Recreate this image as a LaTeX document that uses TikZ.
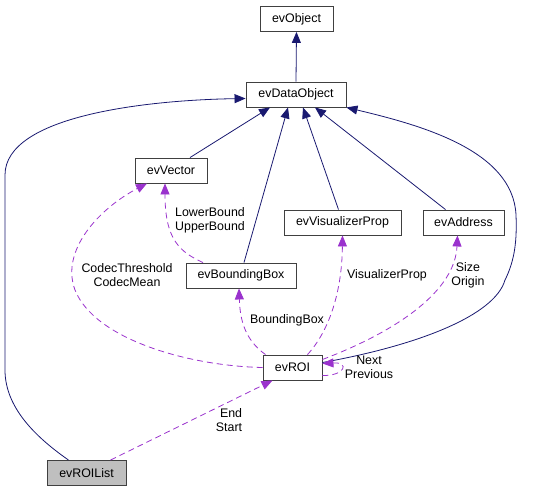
\documentclass[tikz,border=0pt]{standalone}
\usepackage{fontspec}
\setmainfont{Liberation Sans}
\usetikzlibrary{arrows.meta}
\definecolor{inhcol}{HTML}{191970}
\definecolor{usecol}{HTML}{9A32CD}
\tikzset{cls/.style={draw=black!75, fill=white, line width=0.9pt, inner sep=0pt,
    minimum height=25pt, font=\fontsize{12.4}{14}\selectfont},
  inh/.style={draw=inhcol, line width=0.8pt, arrows={-{Triangle[length=11pt,width=9pt,fill=inhcol]}}},
  use/.style={draw=usecol, line width=0.8pt, dash pattern=on 6pt off 4pt, arrows={-{Triangle[length=11pt,width=9pt,fill=usecol]}}},
  lbl/.style={font=\fontsize{12.4}{14}\selectfont, align=center, inner sep=0pt}}

\begin{document}
\begin{tikzpicture}[x=1pt,y=-1pt]
      \useasboundingbox (0,0) rectangle (538,492);

      \node [cls, minimum width=73pt] (evObject) at (296.5,19) {evObject};
      \node [cls, minimum width=100pt] (evDataObject) at (296,94.5) {evDataObject};
      \node [cls, minimum width=72pt] (evVector) at (171,170.5) {evVector};
      \node [cls, minimum width=117pt] (evVisualizerProp) at (342.5,222.5) {evVisualizerProp};
      \node [cls, minimum width=81pt] (evAddress) at (463.5,222.5) {evAddress};
      \node [cls, minimum width=110pt] (evBoundingBox) at (241,275.5) {evBoundingBox};
      \node [cls, minimum width=59pt] (evROI) at (292.5,367.5) {evROI};
      \node [cls, minimum width=79pt, fill=black!25] (evROIList) at (86.5,473) {evROIList};

      % inheritance
      \draw [inh] (evDataObject.north) -- (evObject.south);
      \draw [inh] ([xshift=19pt]evVector.north) -- ([xshift=-26pt]evDataObject.south);
      \draw [inh] ([xshift=3pt]evBoundingBox.north) -- ([xshift=-8pt]evDataObject.south);
      \draw [inh] ([xshift=-4pt]evVisualizerProp.north) -- ([xshift=7pt]evDataObject.south);
      \draw [inh] ([xshift=-18pt]evAddress.north) -- ([xshift=19pt]evDataObject.south);
      \draw [inh] ([yshift=5pt]evROI.east) .. controls (420,345) and (495,315) .. (505,280)
        .. controls (515,260) and (517,240) .. (516,215)
        .. controls (513,150) and (420,125) .. (evDataObject.south east);
      \draw [inh] ([xshift=-18pt]evROIList.north) .. controls (40,440) and (5,410) .. (5,370)
        -- (5,175) .. controls (5,115) and (150,100) .. ([yshift=-4pt]evDataObject.west);

      % usage
      \draw [use] (evROI.west) .. controls (190,366) and (95,340) .. (75,290)
        .. controls (60,250) and (100,208) .. ([xshift=-24pt]evVector.south);
      \draw [use] ([xshift=-38pt]evBoundingBox.north) .. controls (180,252) and (165,240) .. ([xshift=-6pt]evVector.south);
      \draw [use] ([xshift=-27pt]evROI.north) .. controls (245,340) and (240,320) .. ([xshift=-2pt]evBoundingBox.south);
      \draw [use] ([xshift=15pt]evROI.north) .. controls (330,330) and (342,290) .. (evVisualizerProp.south);
      \draw [use] ([yshift=8pt]evROI.east) .. controls (400,330) and (455,290) .. ([xshift=-6pt]evAddress.south);
      \draw [use] ([yshift=-8pt]evROI.east) .. controls (345,376) and (350,362) .. ([yshift=4pt]evROI.east);
      \draw [use] ([xshift=24pt]evROIList.north) -- ([xshift=-20pt]evROI.south);

      \node [lbl] (lCodec) at (127,275) {CodecThreshold\\CodecMean};
      \node [lbl, align=left] (lBound) at (210,220) {LowerBound\\UpperBound};
      \node [lbl] (lBBox) at (287,320) {BoundingBox};
      \node [lbl] (lVisProp) at (387,275) {VisualizerProp};
      \node [lbl] (lSize) at (468,275) {Size\\Origin};
      \node [lbl] (lNext) at (369,367) {Next\\Previous};
      \node [lbl, align=right] (lEnd) at (229,420) {End\\Start};
    \end{tikzpicture}
\end{document}
